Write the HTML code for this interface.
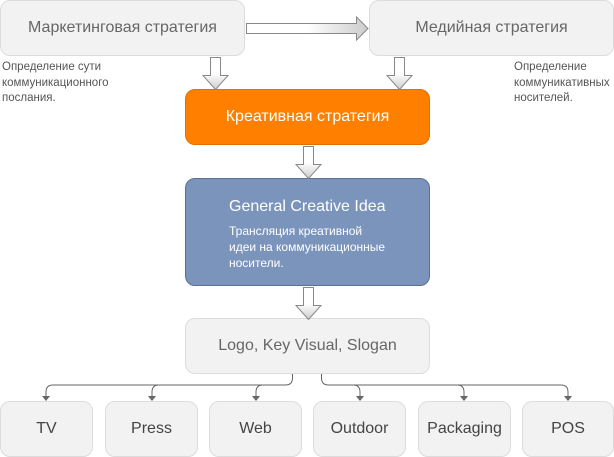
<!DOCTYPE html>
<html><head><meta charset="utf-8"><style>
body{margin:0;width:614px;height:457px;background:#fff;position:relative;overflow:hidden;font-family:"Liberation Sans","DejaVu Sans",sans-serif}
.b{position:absolute;box-sizing:border-box;border-radius:10px;display:flex;align-items:center;justify-content:center;font-size:16px}
.g{background:#f2f2f2;border:1px solid #dcdcdc;color:#666}
.t{position:absolute;font-size:11.5px;color:#555;line-height:15.5px}
</style></head><body>
<div class="b g" style="left:0;top:0;width:245px;height:56px">Маркетинговая стратегия</div>
<div class="b g" style="left:369px;top:0;width:245px;height:56px">Медийная стратегия</div>
<div class="t" style="left:2px;top:60px">Определение сути<br>коммуникационного<br>послания.</div>
<div class="t" style="left:514px;top:60px">Определение<br>коммуникативных<br>носителей.</div>
<div class="b" style="left:185px;top:89px;width:245px;height:56px;background:#ff8000;border:1px solid #e07000;color:#fff">Креативная стратегия</div>
<div class="b" style="left:185px;top:178px;width:245px;height:108px;background:#7b94bc;border:1px solid #5c7090;color:#fff;display:block">
<div style="position:absolute;left:43px;top:19px;font-size:16px">General Creative Idea</div>
<div style="position:absolute;left:43px;top:44px;font-size:12px;line-height:16px">Трансляция креативной<br>идеи на коммуникационные<br>носители.</div></div>
<div class="b g" style="left:185px;top:318px;width:245px;height:56px">Logo, Key Visual, Slogan</div>
<div class="b g" style="left:0;top:401px;width:93px;height:56px;color:#444">TV</div>
<div class="b g" style="left:105px;top:401px;width:93px;height:56px;color:#444">Press</div>
<div class="b g" style="left:209px;top:401px;width:93px;height:56px;color:#444">Web</div>
<div class="b g" style="left:313px;top:401px;width:93px;height:56px;color:#444">Outdoor</div>
<div class="b g" style="left:418px;top:401px;width:93px;height:56px;color:#444">Packaging</div>
<div class="b g" style="left:522px;top:401px;width:92px;height:56px;color:#444">POS</div>
<svg width="614" height="457" style="position:absolute;left:0;top:0">
<defs>
<linearGradient id="h" x1="0" x2="1" y1="0" y2="0"><stop offset="0" stop-color="#fff"/><stop offset="0.5" stop-color="#fff"/><stop offset="1" stop-color="#ccc"/></linearGradient>
<linearGradient id="v" x1="0" x2="0" y1="0" y2="1"><stop offset="0" stop-color="#fff"/><stop offset="0.5" stop-color="#fff"/><stop offset="1" stop-color="#ccc"/></linearGradient>
<g id="d"><polygon points="-5,0 5,0 5,18 12.5,18 0,32 -12.5,18 -5,18" fill="url(#v)" stroke="#888" stroke-width="1"/></g>
</defs>
<polygon points="246.5,23.5 356.5,23.5 356.5,17 368,28.5 356.5,40 356.5,33.5 246.5,33.5" fill="url(#h)" stroke="#888"/>
<use href="#d" x="215.5" y="57.5"/>
<use href="#d" x="399.5" y="57.5"/>
<use href="#d" x="308.5" y="146.5"/>
<use href="#d" x="308.5" y="287.5"/>
<g fill="none" stroke="#666" stroke-width="1">
<path d="M292.5,374 v4 q0,7 -7,7 H53 q-7,0 -7,7 v6"/>
<path d="M159,385 q-7,0 -7,7 v6"/>
<path d="M263,385 q-7,0 -7,7 v6"/>
<path d="M321.5,374 v4 q0,7 7,7 H561 q7,0 7,7 v6"/>
<path d="M353,385 q7,0 7,7 v6"/>
<path d="M457,385 q7,0 7,7 v6"/>
</g>
<g fill="#666">
<polygon points="42,396 50,396 46,401"/><polygon points="148,396 156,396 152,401"/><polygon points="252,396 260,396 256,401"/>
<polygon points="356,396 364,396 360,401"/><polygon points="460,396 468,396 464,401"/><polygon points="564,396 572,396 568,401"/>
</g>
</svg>
</body></html>
